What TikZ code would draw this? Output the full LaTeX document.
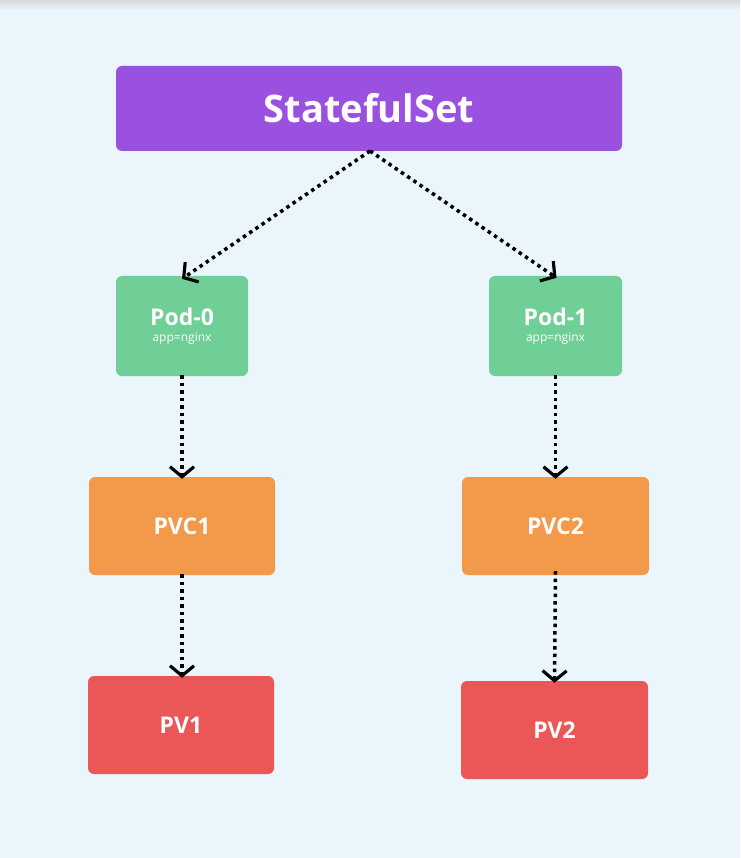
\documentclass[tikz,border=0pt]{standalone}
\usepackage{fontspec}
\setmainfont{Open Sans}
\usetikzlibrary{arrows.meta}
\definecolor{bg}{HTML}{EAF5FC}
\definecolor{purp}{HTML}{9B51E0}
\definecolor{grn}{HTML}{6FCF97}
\definecolor{org}{HTML}{F2994A}
\definecolor{rd}{HTML}{EB5757}
\tikzset{
  box/.style={rounded corners=6pt, inner sep=0pt, text=white, font=\bfseries, align=center},
  conn/.style={line width=3.5pt, dash pattern=on 3.5pt off 4pt,
    -{Straight Barb[length=10pt,width=24pt,line width=0pt 0.9]}}
}
\begin{document}
\begin{tikzpicture}[x=1pt,y=-1pt]
\useasboundingbox (0,0) rectangle (740,858);
\fill[bg] (0,0) rectangle (740,858);
\shade[top color=black!15, bottom color=bg] (0,0) rectangle (740,10);
\node[box, fill=purp, minimum width=506pt, minimum height=85pt, font=\bfseries\fontsize{38}{44}\selectfont] (ss) at (369,108.5) {StatefulSet};
\node[box, fill=grn, minimum width=132pt, minimum height=100pt] (p0) at (182,326) {{\fontsize{23}{26}\selectfont Pod-0}\\[4pt]{\mdseries\fontsize{12}{13}\selectfont app=nginx}};
\node[box, fill=grn, minimum width=133pt, minimum height=100pt] (p1) at (555.5,326) {{\fontsize{23}{26}\selectfont Pod-1}\\[4pt]{\mdseries\fontsize{12}{13}\selectfont app=nginx}};
\node[box, fill=org, minimum width=186pt, minimum height=98pt, font=\bfseries\fontsize{23}{26}\selectfont] (c1) at (182,526) {PVC1};
\node[box, fill=org, minimum width=187pt, minimum height=98pt, font=\bfseries\fontsize{23}{26}\selectfont] (c2) at (555.5,526) {PVC2};
\node[box, fill=rd, minimum width=186pt, minimum height=98pt, font=\bfseries\fontsize{23}{26}\selectfont] (v1) at (181,725) {PV1};
\node[box, fill=rd, minimum width=187pt, minimum height=98pt, font=\bfseries\fontsize{23}{26}\selectfont] (v2) at (554.5,730) {PV2};
\coordinate (sb) at (370,151);
\draw[conn] (sb) -- ([yshift=-3pt]p0.north);
\draw[conn] (sb) -- ([xshift=1pt,yshift=-2pt]p1.north);
\draw[conn] ([yshift=1pt]p0.south) -- ([yshift=-2pt]c1.north);
\draw[conn] ([yshift=1pt]p1.south) -- ([yshift=-2pt]c2.north);
\draw[conn] ([yshift=1pt]c1.south) -- ([xshift=1pt,yshift=-2pt]v1.north);
\draw[conn] ([yshift=4pt]c2.south) -- ([yshift=-2pt]v2.north);
\end{tikzpicture}
\end{document}
